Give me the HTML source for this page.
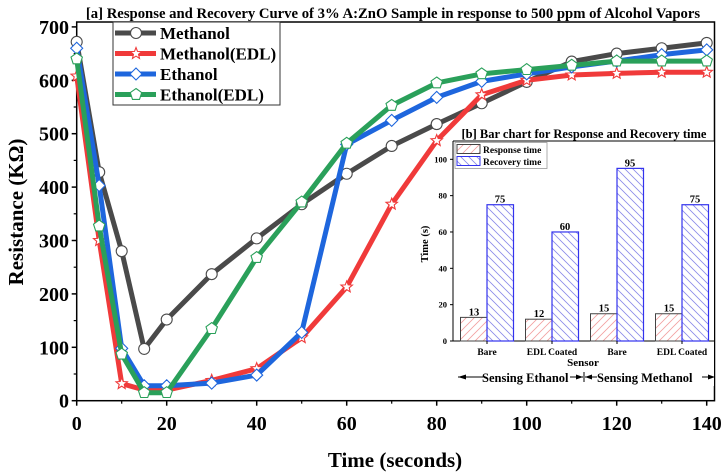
<!DOCTYPE html>
<html><head><meta charset="utf-8"><style>
body{margin:0;background:#fff;}
svg{display:block;font-family:"Liberation Serif",serif;font-weight:bold;}
</style></head><body>
<svg id="chart" width="724" height="474" viewBox="0 0 724 474" xmlns="http://www.w3.org/2000/svg">
<g id="main"></g>
<g id="inset"></g>
</svg>
<script>
const times=[0,5,10,15,20,30,40,50,60,70,80,90,100,110,120,130,140];
const methanol=[672,428,280,97,152,237,304,368,425,477,518,557,597,635,650,660,670];
const methanolEDL=[608,300,32,20,20,38,60,118,213,368,487,573,600,610,613,615,615];
const ethanol=[660,403,98,28,28,33,48,128,480,525,568,598,612,625,636,648,657];
const ethanolEDL=[640,327,87,15,15,135,268,372,482,553,595,612,620,628,636,636,636];
const xTicks=[0,20,40,60,80,100,120,140];
const yTicks=[0,100,200,300,400,500,600,700];
const seriesNames=["Methanol","Methanol(EDL)","Ethanol","Ethanol(EDL)"];
const categories=["Bare","EDL Coated","Bare","EDL Coated"];
const responseTimes=[13,12,15,15];
const recoveryTimes=[75,60,95,75];
const insetTicks=[0,20,40,60,80,100];

const NS="http://www.w3.org/2000/svg";
function el(tag,attrs,parent,text){const e=document.createElementNS(NS,tag);for(const k in attrs)e.setAttribute(k,attrs[k]);if(text!==undefined)e.textContent=text;parent.appendChild(e);return e;}
const X=v=>76.7+v*4.5;
const Y=v=>400.7-v*0.534;
const main=document.getElementById('main');
let fr=el('rect',{x:X(0),y:22,width:714.5-X(0),height:Y(0)-22,fill:'none',stroke:'#000','stroke-width':1.5},main);

let t=el('text',{x:393,y:18,'text-anchor':'middle','font-size':14.7},main,'[a] Response and Recovery Curve of 3% A:ZnO Sample in response to 500 ppm of Alcohol Vapors');

xTicks.forEach((v,i)=>{
  el('line',{x1:X(v),x2:X(v),y1:Y(0),y2:Y(0)+5,stroke:'#000','stroke-width':1.5},main);
  if(i<xTicks.length-1)el('line',{x1:X(v+10),x2:X(v+10),y1:Y(0),y2:Y(0)+3,stroke:'#000','stroke-width':1.2},main);
  const tx=el('text',{x:X(v),y:430,'text-anchor':'middle','font-size':20},main,v);
  
});
yTicks.forEach((v,i)=>{
  el('line',{x1:X(0)-5,x2:X(0),y1:Y(v),y2:Y(v),stroke:'#000','stroke-width':1.5},main);
  if(i<yTicks.length-1)el('line',{x1:X(0)-3,x2:X(0),y1:Y(v+50),y2:Y(v+50),stroke:'#000','stroke-width':1.2},main);
  const ty=el('text',{x:69,y:Y(v)+7,'text-anchor':'end','font-size':20},main,v);
  
});
t=el('text',{x:395,y:467,'text-anchor':'middle','font-size':21},main,'Time (seconds)');

t=el('text',{x:0,y:0,'text-anchor':'middle','font-size':21,transform:'translate(23,212) rotate(-90)'},main,'Resistance (KΩ)');


function marker(type,cx,cy,color,g){
  const r=5.5;
  if(type==='circle')return el('circle',{cx,cy,r,fill:'#fff',stroke:color,'stroke-width':1.1},g);
  if(type==='diamond')return el('polygon',{points:`${cx},${cy-r-0.5} ${cx+r+0.5},${cy} ${cx},${cy+r+0.5} ${cx-r-0.5},${cy}`,fill:'#fff',stroke:color,'stroke-width':1.1},g);
  let n=type==='star'?10:5,pts=[];
  for(let i=0;i<n;i++){const a=-Math.PI/2+i*2*Math.PI/n;const rr=type==='star'?(i%2?2.6:6):6;pts.push((cx+rr*Math.cos(a)).toFixed(1)+','+(cy+rr*Math.sin(a)).toFixed(1));}
  return el('polygon',{points:pts.join(' '),fill:'#fff',stroke:color,'stroke-width':1.1},g);
}
const datas=[methanol,methanolEDL,ethanol,ethanolEDL];
const colors=['#4a4a4a','#f03a3a','#1e66dd','#2aa05a'];
const mtypes=['circle','star','diamond','pentagon'];
const keys=['methanol','methanol-edl','ethanol','ethanol-edl'];
datas.forEach((d,s)=>{
  const g=el('g',{},main);
  
  el('polyline',{points:d.map((v,i)=>X(times[i])+','+Y(v)).join(' '),fill:'none',stroke:colors[s],'stroke-width':5,'stroke-linejoin':'round'},g);
  d.forEach((v,i)=>{const m=marker(mtypes[s],X(times[i]),Y(v),colors[s],g);
    });
});
const lg=el('g',{},main);

el('rect',{x:113,y:22,width:167,height:83,fill:'#fff',stroke:'#333','stroke-width':1},lg);
seriesNames.forEach((n,s)=>{
  const y=33+s*20.5;
  const e=el('g',{},lg);
  
  el('line',{x1:115,x2:156,y1:y,y2:y,stroke:colors[s],'stroke-width':5},e);
  marker(mtypes[s],136,y,colors[s],e);
  el('text',{x:160,y:y+6,'font-size':17},e,n);
});

const ins=document.getElementById('inset');
const IX0=453,IX1=714,IY0=341;
const IY=v=>IY0-v*1.817;
el('rect',{x:IX0,y:141,width:IX1-IX0,height:IY0-141,fill:'#fff'},ins);
el('rect',{x:IX0-50,y:IY0,width:IX1-IX0+50,height:45,fill:'#fff'},ins);
t=el('text',{x:584,y:138,'text-anchor':'middle','font-size':12.5},ins,'[b] Bar chart for Response and Recovery time');

el('defs',{},ins).innerHTML='<pattern id="pr" width="8" height="8" patternUnits="userSpaceOnUse"><path d="M0,8 L8,0 M-2,2 L2,-2 M6,10 L10,6" stroke="#f2a0a0" stroke-width="0.8"/></pattern><pattern id="pb" width="8" height="8" patternUnits="userSpaceOnUse"><path d="M0,0 L8,8 M-2,6 L2,10 M6,-2 L10,2" stroke="#8a8ae8" stroke-width="0.8"/></pattern>';
el('line',{x1:IX0,x2:IX1,y1:141,y2:141,stroke:'#000','stroke-width':1},ins);
el('line',{x1:IX0,x2:IX0,y1:141,y2:IY0,stroke:'#000','stroke-width':1},ins);
el('line',{x1:IX0,x2:IX1,y1:IY0,y2:IY0,stroke:'#000','stroke-width':1},ins);
insetTicks.forEach(v=>{
  el('line',{x1:IX0-3,x2:IX0,y1:IY(v),y2:IY(v),stroke:'#000'},ins);
  const tk=el('text',{x:IX0-6,y:IY(v)+3,'text-anchor':'end','font-size':8.5},ins,v);
  
});
t=el('text',{x:0,y:0,'text-anchor':'middle','font-size':10.5,transform:'translate(428,244) rotate(-90)'},ins,'Time (s)');

const cx=i=>487+i*65;
categories.forEach((c,i)=>{
  const b1=el('rect',{x:cx(i)-26.5,y:IY(responseTimes[i]),width:26.5,height:responseTimes[i]*1.817,fill:'url(#pr)',stroke:'#444','stroke-width':1},ins);
  
  const b2=el('rect',{x:cx(i),y:IY(recoveryTimes[i]),width:26.5,height:recoveryTimes[i]*1.817,fill:'url(#pb)',stroke:'#3333ee','stroke-width':1.2},ins);
  
  el('text',{x:cx(i)-13,y:IY(responseTimes[i])-2,'text-anchor':'middle','font-size':10.5},ins,responseTimes[i]);
  el('text',{x:cx(i)+13,y:IY(recoveryTimes[i])-2,'text-anchor':'middle','font-size':10.5},ins,recoveryTimes[i]);
  el('line',{x1:cx(i),x2:cx(i),y1:IY0,y2:IY0+3,stroke:'#000'},ins);
  const lb=el('text',{x:cx(i),y:355,'text-anchor':'middle','font-size':9.5},ins,c);
  
});
t=el('text',{x:583,y:366,'text-anchor':'middle','font-size':11},ins,'Sensor');

const il=el('g',{},ins);

el('rect',{x:455,y:142.5,width:92,height:26,fill:'#fff',stroke:'#999','stroke-width':0.8},il);
el('rect',{x:457,y:144.5,width:23,height:9,fill:'url(#pr)',stroke:'#444'},il);
el('rect',{x:457,y:156.5,width:23,height:9,fill:'url(#pb)',stroke:'#3333ee'},il);
el('text',{x:483,y:153,'font-size':9.5},il,'Response time');
el('text',{x:483,y:165,'font-size':9.5},il,'Recovery time');
const ar=el('g',{},ins);

el('line',{x1:458,x2:483,y1:377,y2:377,stroke:'#000','stroke-width':1},ar);
el('polygon',{points:'458,377 466,374.5 466,379.5',fill:'#000'},ar);
el('text',{x:482,y:382,'font-size':12.5},ar,'Sensing Ethanol');
el('line',{x1:570,x2:583,y1:377,y2:377,stroke:'#000'},ar);
el('polygon',{points:'583,377 576,374.5 576,379.5',fill:'#000'},ar);
el('line',{x1:584,x2:584,y1:372,y2:382,stroke:'#000'},ar);
el('line',{x1:585,x2:597,y1:377,y2:377,stroke:'#000'},ar);
el('polygon',{points:'585,377 592,374.5 592,379.5',fill:'#000'},ar);
el('text',{x:597,y:382,'font-size':12.5},ar,'Sensing Methanol');
el('line',{x1:702,x2:715,y1:377,y2:377,stroke:'#000'},ar);
el('polygon',{points:'715,377 708,374.5 708,379.5',fill:'#000'},ar);
</script>
</body></html>
